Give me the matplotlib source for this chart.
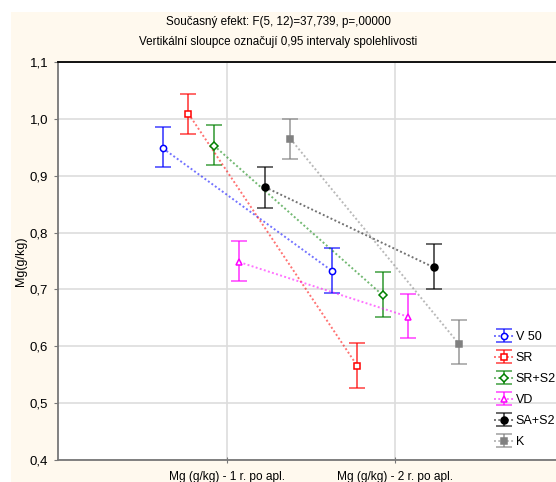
import numpy as np
import matplotlib
matplotlib.use("Agg")
from matplotlib import pyplot as plt
from matplotlib.colors import to_rgba
from matplotlib.patches import Rectangle
from matplotlib.ticker import FuncFormatter

plt.rcParams['font.family'] = ['Liberation Sans', 'DejaVu Sans']

# data
categories = ["Mg (g/kg) - 1 r. po apl.", "Mg (g/kg) - 2 r. po apl."]
series = ["V 50", "SR", "SR+S2", "VD", "SA+S2", "K"]
means = [
    [0.948, 0.733],
    [1.009, 0.566],
    [0.953, 0.690],
    [0.748, 0.652],
    [0.880, 0.739],
    [0.965, 0.604],
]
lower = [
    [0.915, 0.694],
    [0.973, 0.526],
    [0.918, 0.651],
    [0.714, 0.615],
    [0.844, 0.701],
    [0.930, 0.568],
]
upper = [
    [0.985, 0.773],
    [1.044, 0.606],
    [0.989, 0.730],
    [0.785, 0.692],
    [0.915, 0.780],
    [1.000, 0.646],
]
colors = ["#0000ff", "#ff0000", "#008000", "#ff00ff", "#000000", "#808080"]
markers = ["o", "s", "D", "^", "o", "s"]
filled = [False, False, False, False, True, True]
msizes = [4.5, 4.5, 4, 4.5, 5, 5]

fig = plt.figure()
fig.set_dpi(100)
fig.set_size_inches(5.56, 4.82)

# cream panel behind the chart
fig.patches.append(Rectangle((11 / 556, 0), 1, 1 - 12 / 482, transform=fig.transFigure,
                             facecolor="#fff9ee", edgecolor="none", zorder=-10))

ax = fig.add_axes([58 / 556, 22 / 482, 506 / 556, 398 / 482])
ax.set_facecolor("white")

step = 0.151
xbase = np.arange(1, len(categories) + 1)
for i, name in enumerate(series):
    xs = xbase + (i - 2.5) * step
    m = np.array(means[i])
    yerr = [m - np.array(lower[i]), np.array(upper[i]) - m]
    c = colors[i]
    ax.errorbar(xs, m, yerr=yerr, fmt=markers[i], linestyle=(0, (1, 1.2)), lw=1.4,
                color=to_rgba(c, 0.55), ecolor=to_rgba(c, 0.75), elinewidth=1.2,
                capsize=6, capthick=1.2, markersize=msizes[i],
                mec=c, mfc=c if filled[i] else 'white', mew=1.1,
                label=name, zorder=3)

ax.set_xlim(0, 3)
ax.set_ylim(0.4, 1.1)
ax.set_xticks(xbase)
ax.set_xticklabels(categories, fontsize=8.6)
ax.set_yticks(np.arange(0.4, 1.101, 0.1))
ax.yaxis.set_major_formatter(FuncFormatter(lambda v, p: ("%.1f" % v).replace('.', ',')))
ax.tick_params(axis='y', labelsize=9.5, length=3, color="#777777", pad=4)
ax.tick_params(axis='x', length=4, color="#777777", pad=6, direction='inout')
ax.grid(True, color="#dddddd", lw=1.2)
ax.set_axisbelow(True)
for s in ["left", "bottom"]:
    ax.spines[s].set_color("#777777")
    ax.spines[s].set_linewidth(1.3)
ax.spines["top"].set_color("black")
ax.spines["top"].set_linewidth(1.3)
ax.spines["right"].set_visible(False)

ax.set_ylabel("Mg(g/kg)", fontsize=9, labelpad=2)

fig.text(0.5, 1 - 22 / 482, "Současný efekt: F(5, 12)=37,739, p=,00000",
         ha='center', va='center', fontsize=8.4)
fig.text(0.5, 1 - 42 / 482, "Vertikální sloupce označují 0,95 intervaly spolehlivosti",
         ha='center', va='center', fontsize=8.4)

leg = ax.legend(loc='upper left', bbox_to_anchor=(494 / 556, 1 - 331 / 482),
                bbox_transform=fig.transFigure, frameon=False, fontsize=9,
                handlelength=1.6, handletextpad=0.15, labelspacing=0.72,
                borderpad=0, borderaxespad=0)

fig.savefig("out.png", dpi=100)
